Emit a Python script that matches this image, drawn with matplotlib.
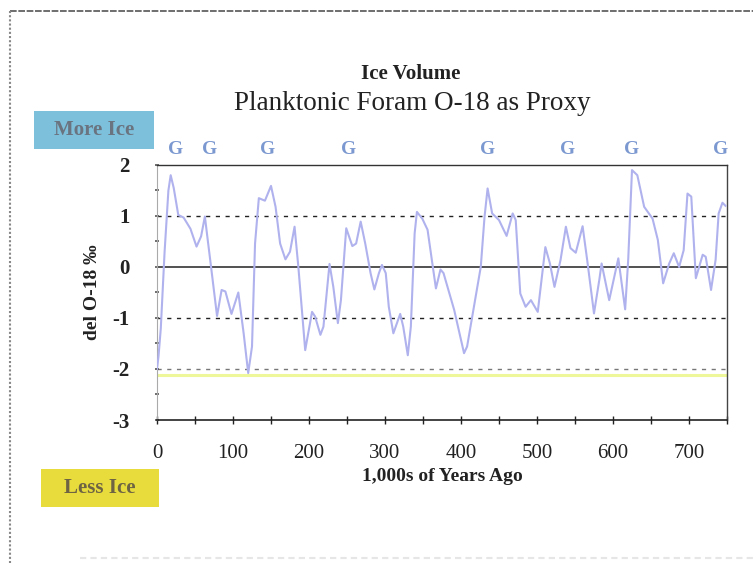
import matplotlib
matplotlib.use("Agg")
import matplotlib.pyplot as plt
from matplotlib.patches import Rectangle
from matplotlib.lines import Line2D
import numpy as np

plt.rcParams['axes.unicode_minus'] = False
SERIF = ['Liberation Serif', 'DejaVu Serif']

# ---- data ----
age_kyr = [0, 2, 5, 10, 15, 18, 22, 28, 35, 44, 52, 58, 63, 67, 70, 79, 85, 90, 98,
           107, 114, 120, 125, 129, 134, 142, 150, 156, 162, 169, 175, 181, 186, 195,
           204, 208, 215, 219, 227, 232, 238, 242, 249, 257, 262, 268, 274, 281, 286,
           292, 296, 301, 305, 311, 320, 324, 330, 334, 339, 342, 349, 356, 362, 367,
           373, 377, 391, 404, 408, 417, 426, 431, 435, 441, 450, 460, 468, 472, 478,
           485, 492, 501, 507, 511, 517, 523, 531, 538, 544, 551, 560, 566, 575, 582,
           585, 595, 607, 616, 620, 625, 632, 641, 652, 659, 666, 674, 680, 687, 693,
           698, 703, 709, 718, 722, 729, 735, 739, 744, 748]
del_o18 = [-2.0, -1.75, -1.2, 0.3, 1.5, 1.8, 1.55, 1.02, 0.97, 0.75, 0.40, 0.6, 0.99,
           0.5, 0.14, -0.96, -0.45, -0.48, -0.92, -0.5, -1.3, -2.08, -1.56, 0.46, 1.35,
           1.30, 1.59, 1.18, 0.46, 0.15, 0.3, 0.79, 0.0, -1.63, -0.88, -0.97, -1.33,
           -1.17, 0.06, -0.39, -1.10, -0.65, 0.76, 0.41, 0.46, 0.89, 0.46, -0.12, -0.44,
           -0.12, 0.04, -0.12, -0.78, -1.30, -0.92, -1.17, -1.73, -1.17, 0.66, 1.08,
           0.95, 0.73, 0.1, -0.42, -0.05, -0.12, -0.84, -1.69, -1.56, -0.78, 0.0, 0.99,
           1.54, 1.05, 0.92, 0.61, 1.05, 0.92, -0.52, -0.78, -0.65, -0.88, -0.12, 0.39,
           0.07, -0.39, 0.14, 0.79, 0.37, 0.28, 0.8, 0.14, -0.91, -0.25, 0.07, -0.65,
           0.17, -0.83, 0.14, 1.90, 1.80, 1.18, 0.95, 0.53, -0.32, 0.07, 0.27, 0.0,
           0.33, 1.44, 1.38, -0.22, 0.24, 0.20, -0.45, 0.14, 1.05, 1.26, 1.2]
glacial_ages = [24, 69, 146, 252, 435, 540, 624, 741]
glacial_label = "G"
ice_threshold = -2.12
x_ticks = [0, 100, 200, 300, 400, 500, 600, 700]
y_ticks = [-3, -2, -1, 0, 1, 2]
dashed_levels = [1, -1, -2]

W, H = 753, 563
fig = plt.figure(figsize=(W / 100, H / 100), dpi=100)
fig.patch.set_facecolor('white')

def fx(px):
    return px / W

def fy(py):
    return 1 - py / H

# axes box in pixels
L, R, T, B = 157, 727, 165, 420
ax = fig.add_axes([fx(L), fy(B), (R - L) / W, (B - T) / H])
ax.set_xlim(0, 750)
ax.set_ylim(-3, 2)

# grid lines
for lv in dashed_levels:
    col = '#222222' if lv != -2 else '#777777'
    ax.axhline(lv, color=col, lw=1.0, ls=(0, (3, 4)), zorder=1)
ax.axhline(0, color='#333333', lw=1.2, zorder=1)
ax.axhline(ice_threshold, color='#eef79a', lw=2.2, zorder=1)

ax.plot(age_kyr, del_o18, color='#b0b2ee', lw=1.5, zorder=3)

# spines
ax.spines['left'].set_color('#aaaaaa')
ax.spines['left'].set_linewidth(0.8)
ax.spines['top'].set_color('#333333')
ax.spines['top'].set_linewidth(1.0)
ax.spines['top'].set_linestyle((0, (6, 1)))
ax.spines['right'].set_color('#444444')
ax.spines['right'].set_linewidth(1.0)
ax.spines['bottom'].set_color('#222222')
ax.spines['bottom'].set_linewidth(1.2)

ax.set_xticks(x_ticks)
ax.set_xticks(np.arange(50, 751, 100), minor=True)
ax.set_yticks(y_ticks)
ax.set_yticks(np.arange(-2.5, 2, 1.0), minor=True)
ax.tick_params(axis='x', which='both', direction='inout', length=6, width=1,
               color='#222222', pad=14)
ax.tick_params(axis='y', which='both', direction='inout', length=3, width=1.2,
               color='#555555', pad=18)
ax.set_xticklabels([str(v) for v in x_ticks], fontfamily=SERIF, fontsize=15,
                   color='#222222')
ax.set_yticklabels([str(v) for v in y_ticks], fontfamily=SERIF, fontsize=15,
                   fontweight='bold', color='#222222')

ax.set_xlabel("1,000s of Years Ago", fontfamily=SERIF, fontsize=14,
              fontweight='bold', color='#222222', labelpad=4)
ax.set_ylabel("del O-18 \u2030", fontfamily=SERIF, fontsize=14,
              fontweight='bold', color='#222222', labelpad=8)

# glacial markers
for a in glacial_ages:
    ax.text(a, 2.3, glacial_label, ha='center', va='center', fontfamily=SERIF,
            fontsize=14, fontweight='bold', color='#7b98d0', clip_on=False)

# titles
fig.text(fx(411), fy(74), "Ice Volume", ha='center', va='center', fontfamily=SERIF,
         fontsize=15, fontweight='bold', color='#222222')
fig.text(fx(412), fy(103), "Planktonic Foram O-18 as Proxy", ha='center', va='center',
         fontfamily=SERIF, fontsize=19.5, color='#222222')

# side boxes
fig.patches.append(Rectangle((fx(34), fy(149)), (154 - 34) / W, (149 - 111) / H,
                             transform=fig.transFigure, facecolor='#7dc0dc',
                             edgecolor='none'))
fig.text(fx(94), fy(130), "More Ice", ha='center', va='center', fontfamily=SERIF,
         fontsize=15, fontweight='bold', color='#6a7480')
fig.patches.append(Rectangle((fx(41), fy(507)), (159 - 41) / W, (507 - 469) / H,
                             transform=fig.transFigure, facecolor='#e8dc3c',
                             edgecolor='none'))
fig.text(fx(100), fy(488), "Less Ice", ha='center', va='center', fontfamily=SERIF,
         fontsize=15, fontweight='bold', color='#6e6444')

# outer frame
fig.lines.append(Line2D([fx(10), fx(753)], [fy(11), fy(11)], transform=fig.transFigure,
                        color='#555555', lw=1.2, ls=(0, (4, 1))))
fig.lines.append(Line2D([fx(10), fx(10)], [fy(11), fy(563)], transform=fig.transFigure,
                        color='#888888', lw=1.5, ls=(0, (1, 1))))
fig.lines.append(Line2D([fx(80), fx(753)], [fy(558), fy(558)], transform=fig.transFigure,
                        color='#e6e6e6', lw=1.5, ls=(0, (3, 2))))

fig.savefig("out.png", dpi=100, facecolor='white')
